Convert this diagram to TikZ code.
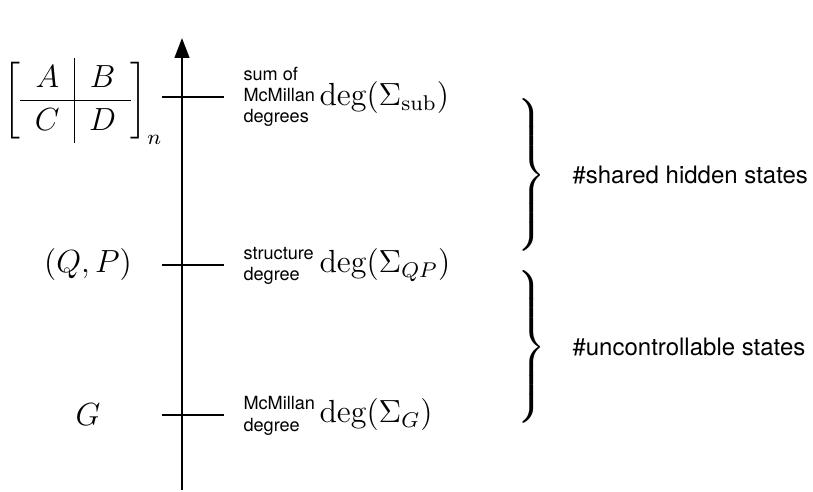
\documentclass[tikz,border=0pt]{standalone}
\usepackage{amsmath}
\usepackage{fontspec}
\setsansfont{TeX Gyre Heros}
\usetikzlibrary{arrows.meta}

\begin{document}
\begin{tikzpicture}[
	x=0.375pt, y=-0.375pt,
	axe/.style={-{Triangle[width=5.5pt,length=7.5pt]}, line width=0.9pt},
	tic/.style={line width=0.9pt},
	obj/.style={font=\large, inner sep=0pt},
	note/.style={anchor=west, align=left, font=\sffamily\fontsize{6.8}{8}\selectfont, inner sep=0pt},
	dg/.style={anchor=west, font=\large, inner sep=0pt},
	brc/.style={font=\large, inner sep=0pt},
	lbl/.style={anchor=west, font=\sffamily\fontsize{9}{11}\selectfont, inner sep=0pt}
	]
	\useasboundingbox (0,0) rectangle (813,492);

	\coordinate (bot) at (182,490);
	\coordinate (top) at (182,38);
	\draw[axe] (bot) -- (top);

	\coordinate (t1l) at (162,97);
	\coordinate (t1r) at (224,97);
	\coordinate (t2l) at (162,265);
	\coordinate (t2r) at (224,265);
	\coordinate (t3l) at (162,415);
	\coordinate (t3r) at (224,415);
	\draw[tic] (t1l) -- (t1r);
	\draw[tic] (t2l) -- (t2r);
	\draw[tic] (t3l) -- (t3r);

	\node[obj] (mat) at (83,101) {$\setlength{\arraycolsep}{5.5pt}\renewcommand{\arraystretch}{1.12}\left[\begin{array}{c|c} A & B\\ \hline C & D\end{array}\right]_n$};
	\node[obj] (qp) at (88,265) {$(Q,P)$};
	\node[obj] (g) at (88,415) {$G$};

	\node[note] (n1) at (243,97) {sum of\\McMillan\\degrees};
	\node[note] (n2) at (243,266) {structure\\degree};
	\node[note] (n3) at (243,416) {McMillan\\degree};

	\node[dg] (d1) at (319,98) {$\deg(\Sigma_{\mathrm{sub}})$};
	\node[dg] (d2) at (319,265) {$\deg(\Sigma_{QP})$};
	\node[dg] (d3) at (319,415) {$\deg(\Sigma_G)$};

	\node[brc] (b1) at (530,175) {$\left.\vcenter{\hbox{\rule{0pt}{58pt}}}\right\}$};
	\node[brc] (b2) at (530,347) {$\left.\vcenter{\hbox{\rule{0pt}{58pt}}}\right\}$};

	\node[lbl] (l1) at (572,175) {\#shared hidden states};
	\node[lbl] (l2) at (572,347) {\#uncontrollable states};
\end{tikzpicture}
\end{document}
